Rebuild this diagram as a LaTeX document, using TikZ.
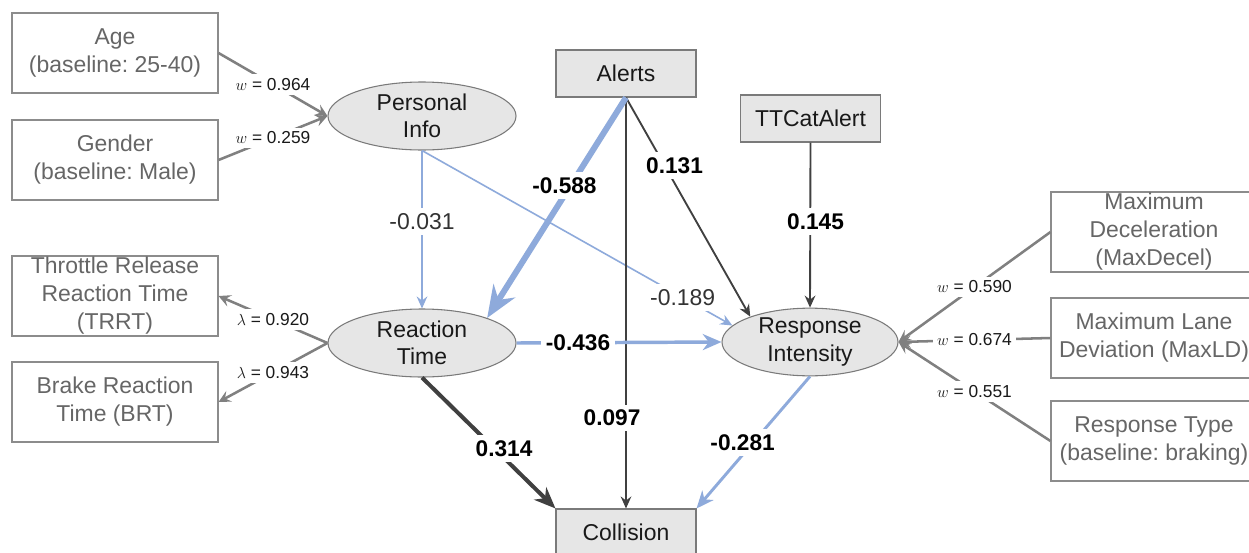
\documentclass[tikz,border=0pt]{standalone}
\usepackage{fontspec}
\setmainfont{Liberation Sans}
\usetikzlibrary{arrows.meta,shapes.geometric}
\frenchspacing
\definecolor{boxgray}{HTML}{8C8C8C}
\definecolor{txtgray}{HTML}{666666}
\definecolor{fillgray}{HTML}{E6E6E6}
\definecolor{nodeline}{HTML}{7A7A7A}
\definecolor{edgeblue}{HTML}{8EAADB}
\definecolor{edgedark}{HTML}{404040}
\definecolor{measgray}{HTML}{808080}
\definecolor{labtxt}{HTML}{333333}
\begin{document}
\begin{tikzpicture}[x=0.75pt,y=-0.75pt,
  obsbox/.style={draw=boxgray, line width=0.8pt, minimum width=154.5pt, minimum height=60pt,
    inner sep=0pt, align=center, text=txtgray, font=\fontsize{17.2}{21}\selectfont},
  keybox/.style={draw=nodeline, line width=0.8pt, fill=fillgray, minimum width=105pt, minimum height=35.25pt,
    inner sep=0pt, align=center, text=black!90, font=\fontsize{17.2}{21}\selectfont},
  latent/.style={ellipse, draw=nodeline, line width=0.8pt, fill=fillgray, minimum width=141pt, minimum height=51pt,
    inner sep=0pt, align=center, text=black!90, font=\fontsize{17.2}{20.5}\selectfont},
  meas/.style={draw=measgray, line width=1.9pt, -{Stealth[length=9pt,width=9pt,inset=3.5pt]}},
  bluethin/.style={draw=edgeblue, line width=1.2pt, -{Stealth[length=9pt,width=8pt,inset=3pt]}},
  darkthin/.style={draw=edgedark, line width=1.1pt, -{Stealth[length=9pt,width=8pt,inset=3pt]}},
  mlabel/.style={fill=white, inner sep=3pt, text=black!90, font=\fontsize{13}{14}\selectfont},
  blabel/.style={fill=white, inner sep=4pt, text=black, font=\bfseries\fontsize{17}{19}\selectfont},
  plabel/.style={fill=white, inner sep=4pt, text=labtxt, font=\fontsize{17.2}{19}\selectfont}
]
\clip (0,0) rectangle (1249,553);
\fill[white] (0,0) rectangle (1249,553);

% observed boxes left
\node[obsbox] (age) at (115,53) {Age\\(baseline: 25-40)};
\node[obsbox] (gender) at (115,160) {Gender\\(baseline: Male)};
\node[obsbox] (trrt) at (115,296) {Throttle Release\\Reaction Time\\(TRRT)};
\node[obsbox] (brt) at (115,402) {Brake Reaction\\Time (BRT)};
% observed boxes right
\node[obsbox] (maxdecel) at (1154,232) {Maximum\\Deceleration\\(MaxDecel)};
\node[obsbox] (maxld) at (1154,338) {Maximum Lane\\Deviation (MaxLD)};
\node[obsbox] (resptype) at (1154,441) {Response Type\\(baseline: braking)};

% key boxes
\node[keybox] (alerts) at (626,73.5) {Alerts};
\node[keybox] (ttc) at (810.5,118.5) {TTCatAlert};
\node[keybox] (coll) at (626,532.5) {Collision};

% latent
\node[latent] (pi) at (422,116) {Personal\\Info};
\node[latent] (rt) at (422,343) {Reaction\\Time};
\node[latent, minimum width=132pt, minimum height=49.5pt] (ri) at (810,342) {Response\\Intensity};

% measurement edges
\draw[meas] (age.east) -- node[mlabel]{$w$ = 0.964} (pi.west);
\draw[meas] (gender.east) -- node[mlabel]{$w$ = 0.259} (pi.west);
\draw[meas] (rt.west) -- node[mlabel]{$\lambda$ = 0.920} (trrt.east);
\draw[meas] (rt.west) -- node[mlabel]{$\lambda$ = 0.943} (brt.east);
\draw[meas] (maxdecel.west) -- node[mlabel]{$w$ = 0.590} (ri.east);
\draw[meas] (maxld.west) -- node[mlabel]{$w$ = 0.674} (ri.east);
\draw[meas] (resptype.west) -- node[mlabel]{$w$ = 0.551} (ri.east);

% structural edges
\draw[bluethin] (pi.south) -- node[plabel, pos=0.45]{-0.031} (rt.north);
\draw[bluethin] (pi.south) -- node[plabel, pos=0.84]{-0.189} (ri.168);
\draw[darkthin] (alerts.south) -- node[blabel, pos=0.78, xshift=-10.5pt]{0.097} (coll.north);
\draw[darkthin, line width=1.4pt] (alerts.south) -- node[blabel, pos=0.31, xshift=7.5pt]{0.131} (ri.157);
\draw[darkthin, line width=1.4pt] (ttc.south) -- node[blabel, pos=0.48, xshift=4pt]{0.145} (ri.north);
\draw[draw=edgeblue, line width=4.5pt, -{Stealth[length=24pt,width=19pt,inset=8pt]}]
  (alerts.south) -- node[blabel, pos=0.40, xshift=-4.5pt]{-0.588} (rt.21);
\draw[draw=edgeblue, line width=2.6pt, -{Stealth[length=14pt,width=12pt,inset=4.5pt]}]
  (rt.east) -- node[blabel, pos=0.30]{-0.436} (ri.west);
\draw[draw=edgeblue, line width=2.2pt, -{Stealth[length=13pt,width=11pt,inset=4pt]}]
  (ri.south) -- node[blabel, pos=0.5, xshift=-8pt]{-0.281} (coll.north east);
\draw[draw=edgedark, line width=3pt, -{Stealth[length=16pt,width=13pt,inset=5pt]}]
  (rt.south) -- node[blabel, pos=0.54, xshift=7.5pt]{0.314} (coll.north west);
\end{tikzpicture}
\end{document}
